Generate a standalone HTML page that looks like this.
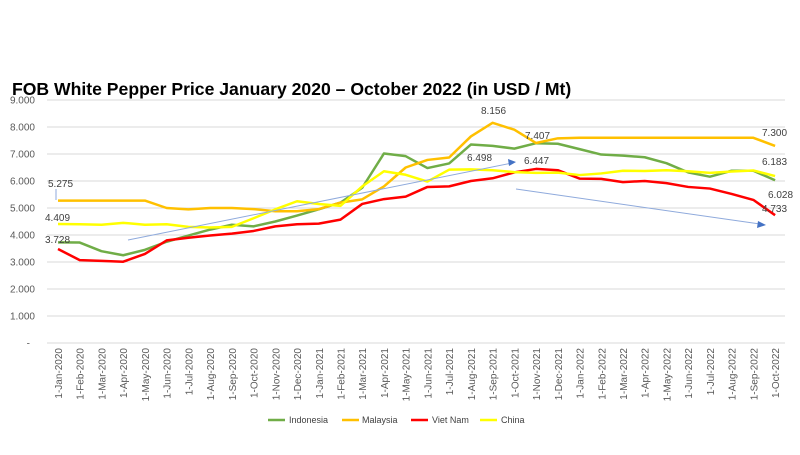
<!DOCTYPE html>
<html><head><meta charset="utf-8"><style>
body{margin:0;background:#fff;width:800px;height:450px;overflow:hidden;font-family:"Liberation Sans",sans-serif}
</style></head><body>
<svg id="s" width="800" height="450" xmlns="http://www.w3.org/2000/svg" font-family="Liberation Sans, sans-serif">
<text x="12" y="95" font-size="17.6" font-weight="bold" fill="#000">FOB White Pepper Price January 2020 – October 2022 (in USD / Mt)</text>
<g id="grid"></g>
<g id="lab"></g>
<g id="series"></g>
<g font-size="10" fill="#404040">
<text x="48" y="187">5.275</text>
<text x="45" y="221">4.409</text>
<text x="45" y="243">3.728</text>
<text x="481" y="114">8.156</text>
<text x="525" y="139">7.407</text>
<text x="467" y="161">6.498</text>
<text x="524" y="164">6.447</text>
<text x="762" y="136">7.300</text>
<text x="762" y="165">6.183</text>
<text x="768" y="198">6.028</text>
<text x="762" y="212">4.733</text>
</g>
<g stroke="#8faadc" stroke-width="1" fill="none">
<line x1="56" y1="189" x2="56" y2="200"/>
<line x1="128" y1="240" x2="512" y2="163"/>
<line x1="516" y1="189" x2="760" y2="224"/>
</g>
<polygon points="516,162 508,159 509,166" fill="#4472c4"/>
<polygon points="766,225 758,221 757,228" fill="#4472c4"/>
<g font-size="9" fill="#404040">
<line x1="268" y1="420" x2="285" y2="420" stroke="#70ad47" stroke-width="2.5"/><text x="289" y="423">Indonesia</text>
<line x1="342" y1="420" x2="359" y2="420" stroke="#ffc000" stroke-width="2.5"/><text x="362" y="423">Malaysia</text>
<line x1="411" y1="420" x2="428" y2="420" stroke="#ff0000" stroke-width="2.5"/><text x="432" y="423">Viet Nam</text>
<line x1="480" y1="420" x2="497" y2="420" stroke="#ffff00" stroke-width="2.5"/><text x="501" y="423">China</text>
</g>
</svg>
<script>
const X=i=>58+21.73*i, Y=v=>343-v*0.027;
const ns="http://www.w3.org/2000/svg";
const g=document.getElementById('grid'),lab=document.getElementById('lab'),se=document.getElementById('series');
function el(p,t,a,txt){const e=document.createElementNS(ns,t);for(const k in a)e.setAttribute(k,a[k]);if(txt)e.textContent=txt;p.appendChild(e);return e;}
for(let k=0;k<=9;k++){const y=Y(k*1000);el(g,'line',{x1:47,x2:785,y1:y,y2:y,stroke:'#d9d9d9','stroke-width':1});
el(lab,'text',{x:k?35:30,y:y+3.5,'font-size':10,fill:'#595959','text-anchor':'end'},k?k+'.000':'-');}
const m=['Jan','Feb','Mar','Apr','May','Jun','Jul','Aug','Sep','Oct','Nov','Dec'];
for(let i=0;i<34;i++){const yr=2020+Math.floor(i/12);const t='1-'+m[i%12]+'-'+yr;const x=X(i)+4;
el(lab,'text',{x:0,y:0,'font-size':10,fill:'#595959','text-anchor':'end',transform:`translate(${x},348) rotate(-90)`},t);}
const D={
'#70ad47':[3728,3720,3400,3250,3450,3750,3980,4200,4380,4320,4500,4720,4950,5200,5750,7020,6920,6480,6650,7350,7300,7200,7400,7380,7180,6980,6940,6880,6660,6320,6160,6380,6380,6028],
'#ffc000':[5275,5275,5275,5275,5275,5000,4950,5000,5000,4960,4880,4880,4960,5200,5320,5800,6500,6780,6870,7650,8156,7900,7407,7580,7600,7600,7600,7600,7600,7600,7600,7600,7600,7300],
'#ff0000':[3480,3070,3040,3010,3300,3800,3900,3980,4050,4150,4320,4400,4420,4570,5150,5330,5420,5780,5800,6000,6100,6320,6447,6400,6090,6080,5960,6000,5920,5780,5720,5520,5300,4733],
'#ffff00':[4409,4400,4380,4450,4380,4400,4300,4280,4300,4620,4950,5250,5150,5080,5800,6360,6230,5980,6420,6430,6400,6330,6300,6310,6220,6280,6380,6370,6400,6360,6300,6350,6390,6183]};
for(const c of ['#70ad47','#ffc000','#ff0000','#ffff00']){
el(se,'polyline',{points:D[c].map((v,i)=>X(i)+','+Y(v)).join(' '),fill:'none',stroke:c,'stroke-width':2.5,'stroke-linejoin':'round'});}
</script>
</body></html>
